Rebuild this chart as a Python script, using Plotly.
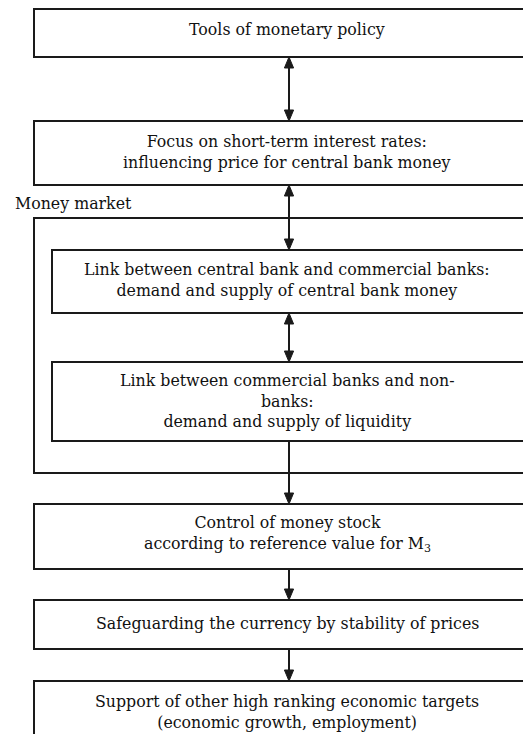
import plotly.graph_objects as go

# ---- content ----
box_labels = [
    "Tools of monetary policy",
    "Focus on short-term interest rates:<br>influencing price for central bank money",
    "Link between central bank and commercial banks:<br>demand and supply of central bank money",
    "Link between commercial banks and non-<br>banks:<br>demand and supply of liquidity",
    "Control of money stock<br>according to reference value for M<sub>3</sub>",
    "Safeguarding the currency by stability of prices",
    "Support of other high ranking economic targets<br>(economic growth, employment)",
]
group_label = "Money market"
# connector kinds between consecutive boxes
link_kinds = ["both", "both", "both", "down", "down", "down"]

# ---- layout geometry (page pixels) ----
W, H = 531, 742
PAD = 8  # default page body margin
box_x = [(34, 560), (34, 560), (52, 524), (52, 524), (34, 560), (34, 560), (34, 560)]
box_y = [(9, 57), (121, 185), (250, 313), (362, 441), (504, 569), (600, 649), (681, 790)]
text_y = [29, 152, 280, 401, 534, 623, 712]
outer_box = ((34, 560), (218, 473))
group_pos = (13, 203)
arrow_x = 289
head_w, head_h = 4.6, 11
LINE = "#1a1a1a"
FONT = dict(family="DejaVu Serif", size=15.8, color="#111")

fig = go.Figure()
shapes = []
for (x0, x1), (y0, y1) in zip(box_x, box_y):
    shapes.append(dict(type="rect", xref="x", yref="y", x0=x0, x1=x1, y0=y0, y1=y1,
                       line=dict(color=LINE, width=2), fillcolor="rgba(0,0,0,0)"))
(ox0, ox1), (oy0, oy1) = outer_box
shapes.append(dict(type="rect", xref="x", yref="y", x0=ox0, x1=ox1, y0=oy0, y1=oy1,
                   line=dict(color=LINE, width=2), fillcolor="rgba(0,0,0,0)", layer="below"))


def head(x, tip, direction):
    base = tip - direction * head_h
    return dict(type="path", xref="x", yref="y",
                path=f"M{x},{tip} L{x - head_w},{base} L{x + head_w},{base} Z",
                fillcolor=LINE, line=dict(color=LINE, width=1))


for i, kind in enumerate(link_kinds):
    y_top = box_y[i][1]
    y_bot = box_y[i + 1][0]
    shapes.append(dict(type="line", xref="x", yref="y", x0=arrow_x, x1=arrow_x,
                       y0=y_top + (head_h if kind == "both" else 0), y1=y_bot - head_h,
                       line=dict(color=LINE, width=2)))
    shapes.append(head(arrow_x, y_bot, 1))
    if kind == "both":
        shapes.append(head(arrow_x, y_top, -1))

annotations = []
for label, ty in zip(box_labels, text_y):
    annotations.append(dict(x=arrow_x - 2, y=ty, xref="x", yref="y", text=label,
                            showarrow=False, font=FONT, align="center",
                            xanchor="center", yanchor="middle"))
annotations.append(dict(x=group_pos[0], y=group_pos[1], xref="x", yref="y", text=group_label,
                        showarrow=False, font=FONT, xanchor="left", yanchor="middle"))

fig.update_layout(
    width=W - 2 * PAD, height=H - 2 * PAD, margin=dict(l=0, r=0, t=0, b=0),
    paper_bgcolor="white", plot_bgcolor="white",
    xaxis=dict(range=[PAD, W - PAD], visible=False, fixedrange=True),
    yaxis=dict(range=[H - PAD, PAD], visible=False, fixedrange=True),
    shapes=shapes, annotations=annotations, showlegend=False,
)
fig.write_html("out.html", config={"displayModeBar": False})
